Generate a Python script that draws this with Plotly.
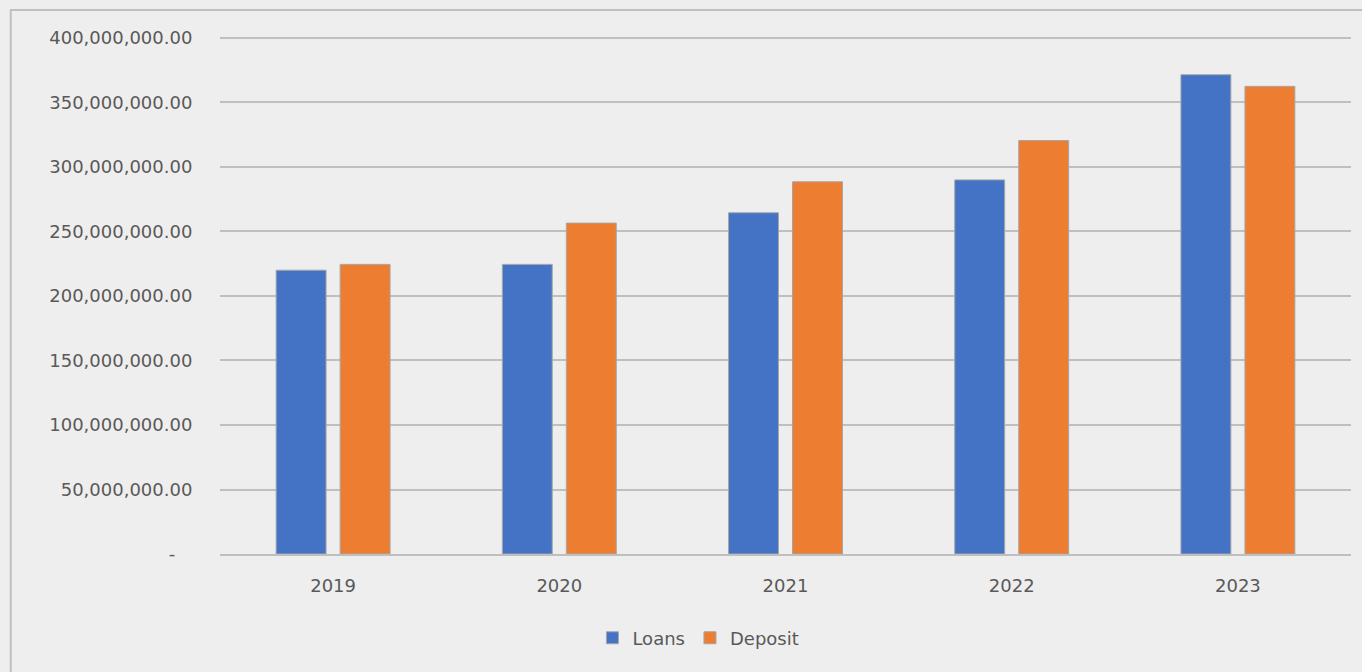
import plotly.graph_objects as go

years = ["2019", "2020", "2021", "2022", "2023"]
loans = [220_000_000, 224_500_000, 264_500_000, 290_000_000, 371_500_000]
deposit = [224_500_000, 256_500_000, 288_500_000, 320_500_000, 362_500_000]
tick_vals = [0, 50_000_000, 100_000_000, 150_000_000, 200_000_000, 250_000_000, 300_000_000, 350_000_000, 400_000_000]
tick_text = ["-\u00a0\u00a0\u00a0"] + [f"{v:,.2f}" for v in tick_vals[1:]]

fig = go.Figure()
fig.add_trace(go.Bar(name="Loans", x=years, y=loans, marker=dict(color="#4472C4", line=dict(color="#a6a6a6", width=1))))
fig.add_trace(go.Bar(name="Deposit", x=years, y=deposit, marker=dict(color="#ED7D31", line=dict(color="#a6a6a6", width=1))))

fig.update_layout(
    width=1362, height=672,
    margin=dict(l=220, r=11, t=35, b=118),
    paper_bgcolor="#eeeeee", plot_bgcolor="rgba(0,0,0,0)",
    barmode="group", bargap=0.434, bargroupgap=0.22,
    font=dict(family="DejaVu Sans, sans-serif", size=18, color="#595959"),
    showlegend=True,
    legend=dict(orientation="h", x=0.423, xref="paper", xanchor="center", y=-0.162, yanchor="middle",
                font=dict(size=18, color="#595959"), traceorder="normal"),
    shapes=[dict(type="rect", xref="paper", yref="paper", x0=-0.185, x1=1.02, y0=-0.24, y1=1.048,
                 line=dict(color="#bfbfbf", width=2), fillcolor="rgba(0,0,0,0)", layer="below")],
)
fig.update_yaxes(range=[0, 402_300_000], tickvals=tick_vals, ticktext=tick_text,
                 showgrid=True, gridcolor="#bfbfbf", gridwidth=2, zeroline=False,
                 ticks="outside", ticklen=23, tickcolor="rgba(0,0,0,0)", showline=False)
fig.update_xaxes(showline=True, linecolor="#bfbfbf", linewidth=2, showgrid=False,
                 ticks="outside", ticklen=14, tickcolor="rgba(0,0,0,0)")

fig.write_html("out.html")
